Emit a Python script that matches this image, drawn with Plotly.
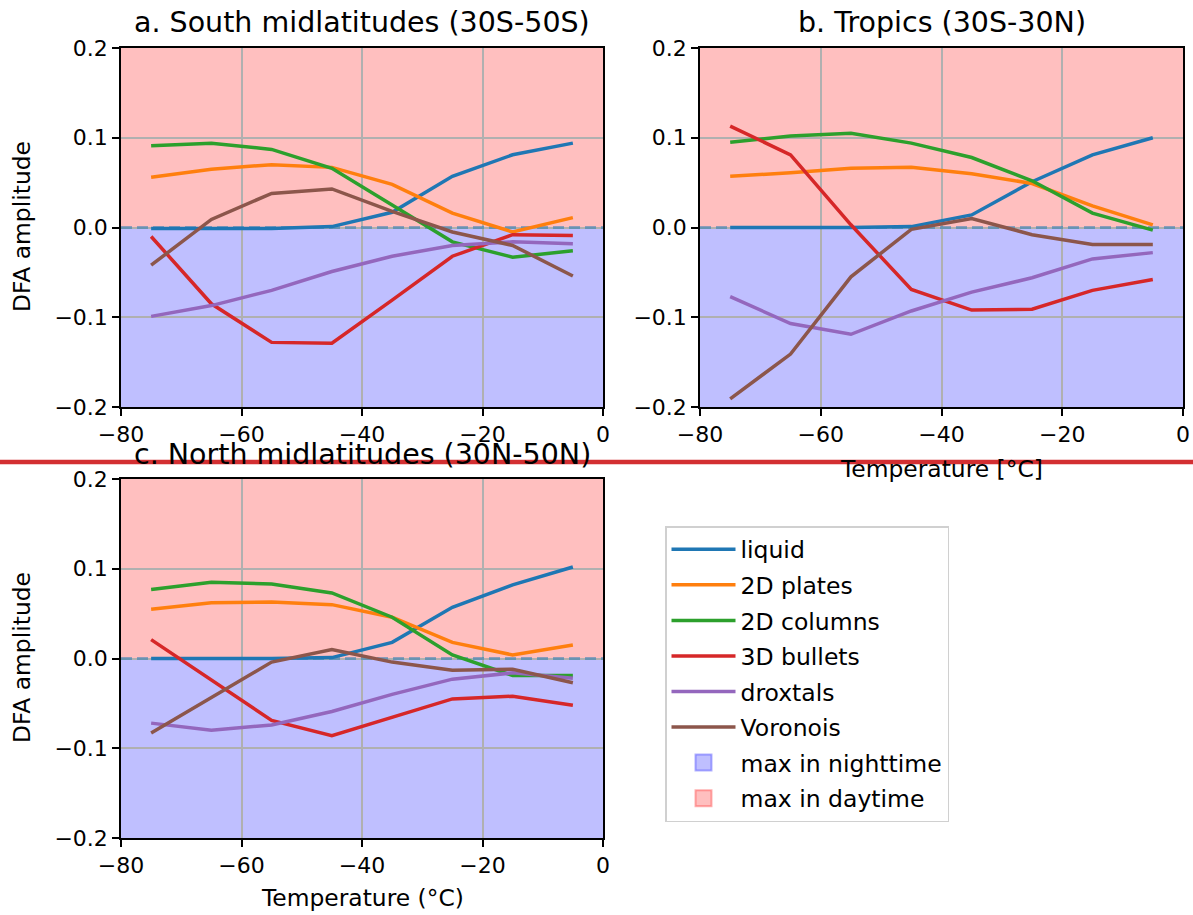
import plotly.graph_objects as go

# ---------------- data ----------------
temps = [-75, -65, -55, -45, -35, -25, -15, -5]
series_names = ["liquid", "2D plates", "2D columns", "3D bullets", "droxtals", "Voronois"]

south_liquid = [-0.001, -0.001, -0.001, 0.001, 0.017, 0.057, 0.081, 0.094]
south_plates = [0.056, 0.065, 0.070, 0.067, 0.048, 0.016, -0.005, 0.011]
south_columns = [0.091, 0.094, 0.087, 0.066, 0.025, -0.016, -0.033, -0.026]
south_bullets = [-0.010, -0.085, -0.128, -0.129, -0.081, -0.032, -0.008, -0.009]
south_droxtals = [-0.099, -0.087, -0.070, -0.049, -0.032, -0.020, -0.016, -0.018]
south_voronois = [-0.042, 0.009, 0.038, 0.043, 0.018, -0.005, -0.020, -0.054]

tropics_liquid = [0.0, 0.0, 0.0, 0.001, 0.014, 0.051, 0.081, 0.100]
tropics_plates = [0.057, 0.061, 0.066, 0.067, 0.060, 0.049, 0.024, 0.003]
tropics_columns = [0.095, 0.102, 0.105, 0.094, 0.078, 0.052, 0.016, -0.003]
tropics_bullets = [0.113, 0.081, 0.003, -0.069, -0.092, -0.091, -0.070, -0.058]
tropics_droxtals = [-0.077, -0.107, -0.119, -0.093, -0.072, -0.056, -0.035, -0.028]
tropics_voronois = [-0.191, -0.141, -0.055, -0.002, 0.010, -0.008, -0.019, -0.019]

north_liquid = [0.0, 0.0, 0.0, 0.001, 0.018, 0.057, 0.082, 0.102]
north_plates = [0.055, 0.062, 0.063, 0.060, 0.046, 0.018, 0.004, 0.015]
north_columns = [0.077, 0.085, 0.083, 0.073, 0.046, 0.004, -0.019, -0.019]
north_bullets = [0.021, -0.024, -0.069, -0.086, -0.066, -0.045, -0.042, -0.052]
north_droxtals = [-0.072, -0.080, -0.074, -0.059, -0.040, -0.023, -0.016, -0.022]
north_voronois = [-0.083, -0.043, -0.004, 0.010, -0.004, -0.013, -0.012, -0.027]

panel_titles = ["a. South midlatitudes (30S-50S)", "b. Tropics (30S-30N)", "c. North midlatitudes (30N-50N)"]
x_range = [-80, 0]
y_range = [-0.2, 0.2]
x_tick_values = [-80, -60, -40, -20, 0]
y_tick_values = [-0.2, -0.1, 0.0, 0.1, 0.2]
band_labels = ["max in nighttime", "max in daytime"]

# ---------------- style ----------------
W, H = 1193, 915
colors = ["#1f77b4", "#ff7f0e", "#2ca02c", "#d62728", "#9467bd", "#8c564b"]
FONT = "DejaVu Sans"

panels = [
    dict(data=[south_liquid, south_plates, south_columns, south_bullets, south_droxtals, south_voronois],
         px=(121, 603), py=(48, 407), xa="x", ya="y"),
    dict(data=[tropics_liquid, tropics_plates, tropics_columns, tropics_bullets, tropics_droxtals, tropics_voronois],
         px=(700, 1183), py=(48, 407), xa="x2", ya="y2"),
    dict(data=[north_liquid, north_plates, north_columns, north_bullets, north_droxtals, north_voronois],
         px=(121, 603), py=(479, 838), xa="x3", ya="y3"),
]

fig = go.Figure()
shapes = []
annotations = []

for pi, p in enumerate(panels):
    # dashed zero reference line (below the data lines)
    fig.add_trace(go.Scatter(x=x_range, y=[0, 0], mode="lines", showlegend=False, hoverinfo="skip",
                             line=dict(color="rgba(31,119,180,0.5)", width=3, dash="11px,5px"),
                             xaxis=p["xa"], yaxis=p["ya"]))
    for si, name in enumerate(series_names):
        fig.add_trace(go.Scatter(
            x=temps, y=p["data"][si], mode="lines", name=name,
            line=dict(color=colors[si], width=3.5),
            xaxis=p["xa"], yaxis=p["ya"],
            legendgroup=name, showlegend=(pi == 0),
        ))
    # background bands (axhspan-like), below gridlines
    shapes.append(dict(type="rect", xref=p["xa"], yref=p["ya"], x0=x_range[0], x1=x_range[1],
                       y0=y_range[0], y1=0, fillcolor="rgb(191,191,255)", line_width=0, layer="below"))
    shapes.append(dict(type="rect", xref=p["xa"], yref=p["ya"], x0=x_range[0], x1=x_range[1],
                       y0=0, y1=y_range[1], fillcolor="rgb(255,191,191)", line_width=0, layer="below"))
    # titles
    cx = (p["px"][0] + p["px"][1]) / 2 / W
    annotations.append(dict(text=panel_titles[pi], xref="paper", yref="paper", x=cx,
                            y=1 - (p["py"][0] - 25) / H, xanchor="center", yanchor="middle",
                            showarrow=False, font=dict(family=FONT, size=28.5, color="black")))

# legend-only patches
fig.add_trace(go.Scatter(x=[None], y=[None], mode="markers", name=band_labels[0],
                         marker=dict(symbol="square", size=20, color="rgba(0,0,255,0.25)",
                                     line=dict(color="rgba(0,0,255,0.3)", width=2)),
                         legendgroup=band_labels[0], xaxis="x", yaxis="y"))
fig.add_trace(go.Scatter(x=[None], y=[None], mode="markers", name=band_labels[1],
                         marker=dict(symbol="square", size=20, color="rgba(255,0,0,0.25)",
                                     line=dict(color="rgba(255,0,0,0.3)", width=2)),
                         legendgroup=band_labels[1], xaxis="x", yaxis="y"))

# axis labels
LBL = 23.4
annotations += [
    dict(text="DFA amplitude", xref="paper", yref="paper", x=22 / W, y=1 - 227 / H, textangle=-90,
         xanchor="center", yanchor="middle", showarrow=False, font=dict(family=FONT, size=LBL, color="black")),
    dict(text="DFA amplitude", xref="paper", yref="paper", x=22 / W, y=1 - 658 / H, textangle=-90,
         xanchor="center", yanchor="middle", showarrow=False, font=dict(family=FONT, size=LBL, color="black")),
    dict(text="Temperature [°C]", xref="paper", yref="paper", x=941 / W, y=1 - 469 / H,
         xanchor="center", yanchor="middle", showarrow=False, font=dict(family=FONT, size=LBL, color="black")),
    dict(text="Temperature (°C)", xref="paper", yref="paper", x=362 / W, y=1 - 898 / H,
         xanchor="center", yanchor="middle", showarrow=False, font=dict(family=FONT, size=LBL, color="black")),
]

# red separator line across the figure, on top of everything
shapes.append(dict(type="line", xref="paper", yref="paper", x0=0, x1=1, y0=1 - 462 / H, y1=1 - 462 / H,
                   line=dict(color="rgb(211,47,50)", width=4.5), layer="above"))

axis_common = dict(showline=True, mirror=True, linecolor="black", linewidth=1.5,
                   ticks="outside", ticklen=7, tickwidth=1.5, tickcolor="black",
                   showgrid=True, gridcolor="#b0b0b0", gridwidth=1.5, zeroline=False,
                   automargin=False,
                   tickfont=dict(family=FONT, size=22, color="black"))

layout_axes = {}
for i, p in enumerate(panels):
    sfx = "" if i == 0 else str(i + 1)
    layout_axes["xaxis" + sfx] = dict(axis_common, domain=[p["px"][0] / W, p["px"][1] / W],
                                      anchor="y" + sfx, range=x_range, tickvals=x_tick_values)
    layout_axes["yaxis" + sfx] = dict(axis_common, domain=[1 - p["py"][1] / H, 1 - p["py"][0] / H],
                                      anchor="x" + sfx, range=y_range, tickvals=y_tick_values,
                                      tickformat=".1f")

fig.update_layout(
    width=W, height=H, margin=dict(l=0, r=0, t=0, b=0, autoexpand=False),
    paper_bgcolor="white", plot_bgcolor="white",
    font=dict(family=FONT, size=22, color="black"),
    shapes=shapes, annotations=annotations,
    legend=dict(x=665 / W, y=1 - 526 / H, xanchor="left", yanchor="top",
                bgcolor="white", bordercolor="#d0d0d0", borderwidth=1.5,
                font=dict(family=FONT, size=23.5, color="black"),
                traceorder="grouped", tracegroupgap=2, itemwidth=64),
    **layout_axes,
)

fig.write_html("out.html")
